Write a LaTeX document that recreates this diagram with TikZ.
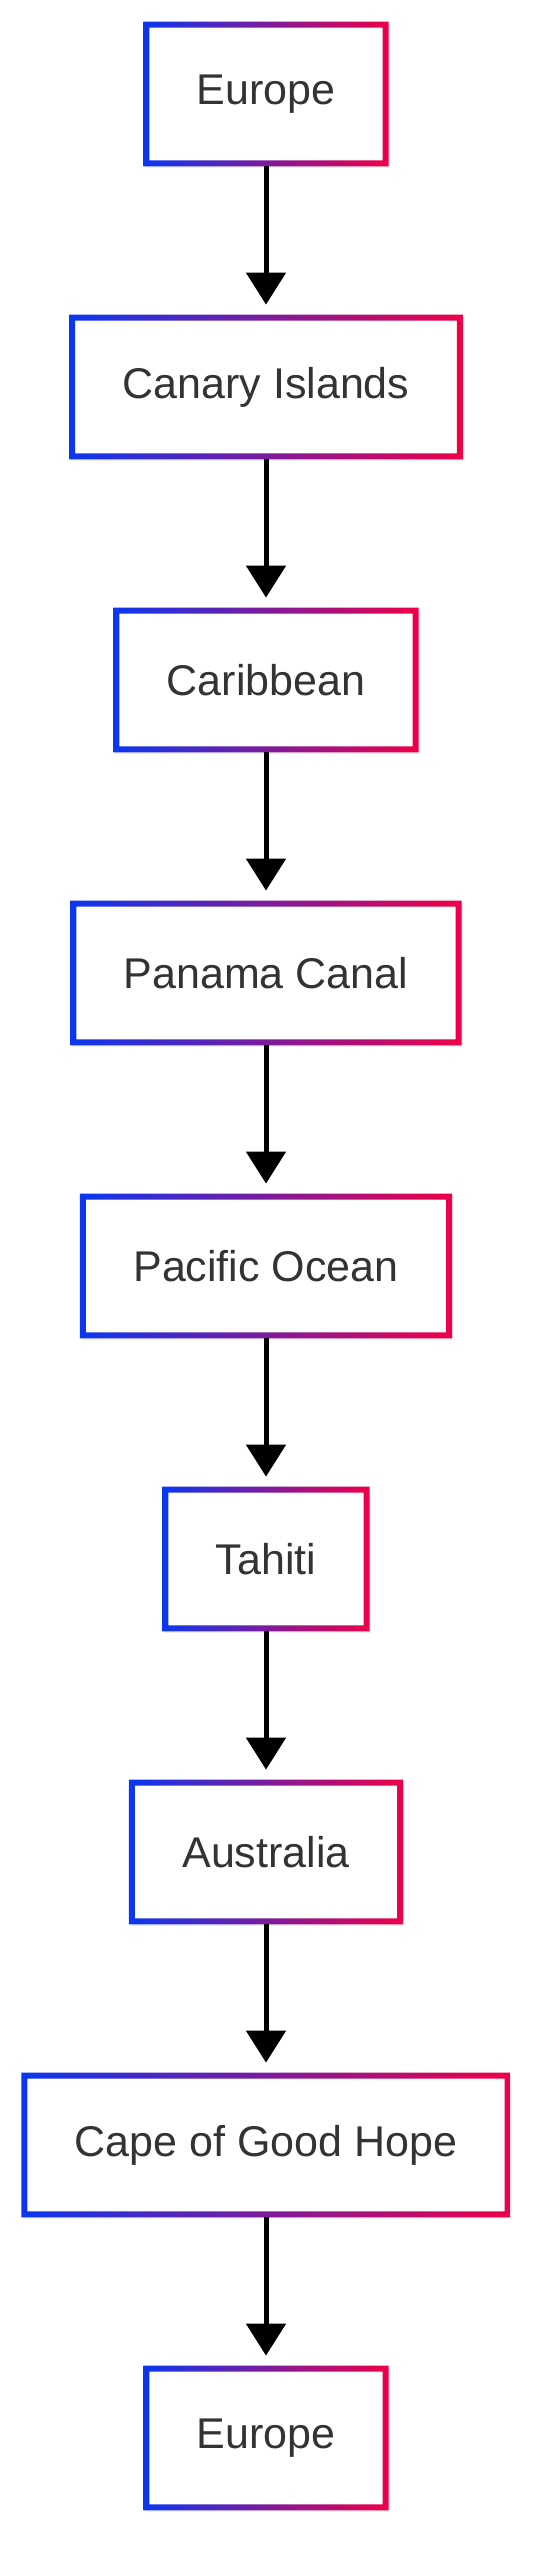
\documentclass[tikz,border=0pt]{standalone}
\usepackage{fontspec}
\setmainfont{Liberation Sans}
\usetikzlibrary{arrows.meta,positioning,shadows}
\definecolor{edgeblue}{RGB}{10,55,240}
\definecolor{edgered}{RGB}{238,0,72}
\definecolor{ink}{RGB}{51,51,51}

\begin{document}
\begin{tikzpicture}[
    stop/.style={rectangle,fill=white,text=ink,minimum height=72pt,inner xsep=26.5pt,
      font=\fontsize{21.5}{26}\selectfont,
      drop shadow={opacity=.12,shadow xshift=.8pt,shadow yshift=-.8pt}},
    flow/.style={line width=2.5pt,-{Triangle[width=19.5pt,length=16pt]},shorten >=5pt}]
    \useasboundingbox (0,0) rectangle (269pt,-1280pt);
    \foreach \t [count=\i] in {Europe,Canary Islands,Caribbean,Panama Canal,
      Pacific Ocean,Tahiti,Australia,Cape of Good Hope,Europe}
    {
      \pgfmathsetmacro{\y}{-47-(\i-1)*146.5}
      \node[stop] (n\i) at (133pt,\y pt) {\t};
      % gradient frame
      \shade[left color=edgeblue,right color=edgered,even odd rule]
        (n\i.south west) rectangle (n\i.north east)
        ([shift={(3pt,3pt)}]n\i.south west) rectangle ([shift={(-3pt,-3pt)}]n\i.north east);
    }
    \foreach \i [remember=\i as \j (initially 1)] in {2,...,9}
      \draw[flow] (n\j) -- (n\i);
\end{tikzpicture}
\end{document}
